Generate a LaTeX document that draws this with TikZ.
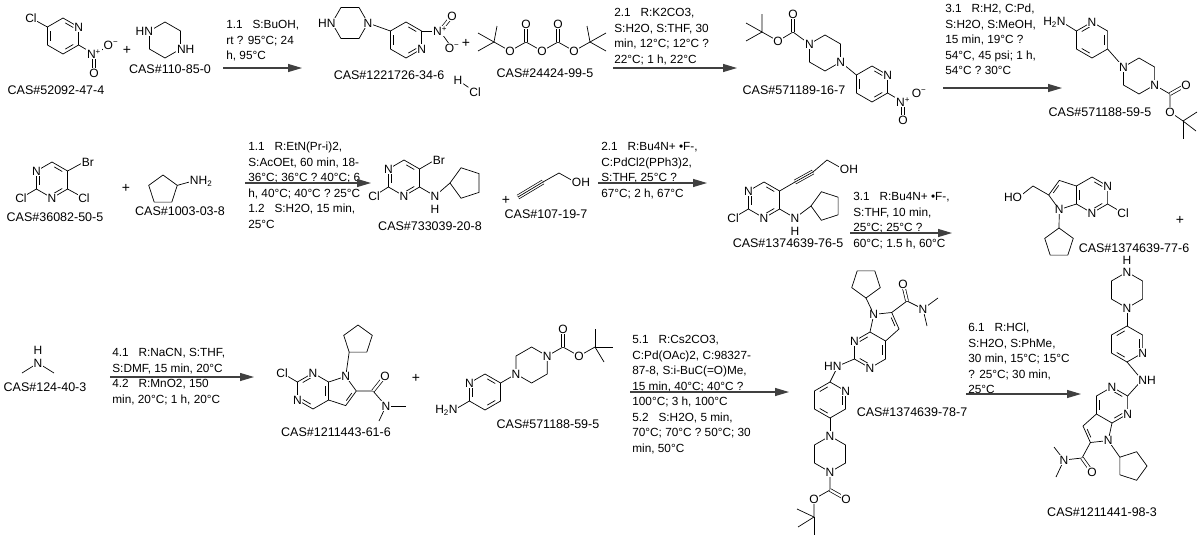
\documentclass[tikz,border=0pt]{standalone}
\usepackage{fontspec}
\setmainfont{Liberation Sans}
\usetikzlibrary{calc,arrows.meta}
\newcommand\hexP[3]{\coordinate (#1c) at (#2,#3); \coordinate (#1t) at (#2,#3-18); \coordinate (#1ur) at (#2+15.59,#3-9); \coordinate (#1lr) at (#2+15.59,#3+9); \coordinate (#1b) at (#2,#3+18); \coordinate (#1ll) at (#2-15.59,#3+9); \coordinate (#1ul) at (#2-15.59,#3-9); \draw (#1t)--(#1ur)--(#1lr)--(#1b)--(#1ll)--(#1ul)--cycle;}
\newcommand\hexF[3]{\coordinate (#1c) at (#2,#3); \coordinate (#1r) at (#2+18,#3); \coordinate (#1dr) at (#2+9,#3+15.59); \coordinate (#1dl) at (#2-9,#3+15.59); \coordinate (#1l) at (#2-18,#3); \coordinate (#1ul) at (#2-9,#3-15.59); \coordinate (#1ur) at (#2+9,#3-15.59); \draw (#1r)--(#1dr)--(#1dl)--(#1l)--(#1ul)--(#1ur)--cycle;}
\newcommand\pent[5]{\foreach \k in {1,...,5}{\coordinate (#1\k) at ({#2+#4*cos(#5+72*(\k-1))},{#3+#4*sin(#5+72*(\k-1))});} \draw (#11)--(#12)--(#13)--(#14)--(#15)--cycle;}
\newcommand\db[3]{\draw ($(#1)!.18!(#2)!.2!(#3)$) -- ($(#2)!.18!(#1)!.2!(#3)$);}
\newcommand\dbl[2]{\draw[double distance=2.2pt] (#1)--(#2);}
\newcommand\tbl[2]{\draw[double distance=3.4pt] (#1)--(#2); \draw (#1)--(#2);}
\begin{document}
\begin{tikzpicture}[x=1pt,y=-1pt,line width=0.7pt,
 atm/.style={fill=white,inner sep=0.6pt,font=\fontsize{12}{12}\selectfont},
 cas/.style={font=\fontsize{12.5}{13}\selectfont,inner sep=0},
 cond/.style={font=\fontsize{11.8}{15.5}\selectfont,align=left,anchor=north west,inner sep=0},
 rxn/.style={line width=1.1pt,draw=black!75,-{Triangle[length=14pt,width=8pt]}},
 plus/.style={font=\fontsize{14}{14}\selectfont}]
\useasboundingbox[fill=white] (0,0) rectangle (1200,539);
% ---------- Row 1 ----------
\hexP{A}{63}{36}
\db{At}{Aur}{Ac} \db{Alr}{Ab}{Ac} \db{All}{Aul}{Ac}
\coordinate (ACl) at (31,18); \draw (Aul)--(ACl);
\coordinate (AN) at (94,54); \draw (Alr)--(AN);
\coordinate (AO1) at (111,45); \draw (AN)--(AO1);
\coordinate (AO2) at (94,73); \dbl{AN}{AO2}
\node[atm] at (ACl) {Cl}; \node[atm] at (Aur) {N}; \node[atm] at (AN) {N\textsuperscript{+}};
\node[atm] at (AO1) {O\textsuperscript{−}}; \node[atm] at (AO2) {O};
\node[cas] (l1) at (56,90) {CAS\#52092-47-4};
\node[plus] (p1) at (127,50) {+};
\hexP{B}{165}{40}
\node[atm,anchor=east] at ($(Bul)+(4.5,0)$) {HN}; \node[atm,anchor=west] at ($(Blr)+(-4.5,0)$) {NH};
\node[cas] (l2) at (170,69) {CAS\#110-85-0};
\node[cond] (c1) at (226,20) {1.1\ \ \ S:BuOH,\\rt ? 95°C; 24\\h, 95°C};
\coordinate (a1s) at (223,68); \coordinate (a1e) at (302,68); \draw[rxn] (a1s)--(a1e);
\hexF{C}{350}{23}
\hexP{D}{406}{40}
\draw (Cr)--(Dul);
\db{Dt}{Dur}{Dc} \db{Dlr}{Db}{Dc} \db{Dll}{Dul}{Dc}
\coordinate (DN) at (440,31); \draw (Dur)--(DN);
\coordinate (DO1) at (452,16); \dbl{DN}{DO1}
\coordinate (DO2) at (452,48); \draw (DN)--(DO2);
\node[atm] at (Cr) {N}; \node[atm,anchor=east] at ($(Cl)+(4.5,0)$) {HN}; \node[atm] at (Dlr) {N};
\node[atm] at (DN) {N\textsuperscript{+}}; \node[atm] at (DO1) {O}; \node[atm] at (DO2) {O\textsuperscript{−}};
\node[cas] (l3) at (389,75) {CAS\#1221726-34-6};
\node[atm] (hh) at (458,80) {H}; \node[atm] (hcl) at (475,92) {Cl}; \draw (hh)--(hcl);
\node[plus] (p2) at (466,43) {+};
% Boc2O
\coordinate (q1) at (494,42); \coordinate (o1) at (510,51); \coordinate (k1) at (526,42); \coordinate (k1o) at (526,24);
\coordinate (o2) at (542,51); \coordinate (k2) at (558,42); \coordinate (k2o) at (558,24); \coordinate (o3) at (574,51); \coordinate (q2) at (590,42);
\draw (478,33)--(q1)--(478,51); \draw (q1)--(497,26);
\draw (q1)--(o1)--(k1)--(o2)--(k2)--(o3)--(q2);
\draw (606,33)--(q2)--(606,51); \draw (q2)--(587,26);
\dbl{k1}{k1o} \dbl{k2}{k2o}
\node[atm] at (o1) {O}; \node[atm] at (o2) {O}; \node[atm] at (o3) {O}; \node[atm] at (k1o) {O}; \node[atm] at (k2o) {O};
\node[cas] (l4) at (545,73) {CAS\#24424-99-5};
\node[cond] (c2) at (614,8) {2.1\ \ \ R:K2CO3,\\S:H2O, S:THF, 30\\min, 12°C; 12°C ?\\22°C; 1 h, 22°C};
\coordinate (a2s) at (613,68); \coordinate (a2e) at (737,68); \draw[rxn] (a2s)--(a2e);
% CAS 571189-16-7
\coordinate (eq) at (762,32); \coordinate (eo) at (778,41); \coordinate (ec) at (793,32); \coordinate (eco) at (793,14);
\draw (762,14)--(eq)--(746,23); \draw (eq)--(746,41);
\hexP{F}{825}{53}
\draw (eq)--(eo)--(ec)--(Ful); \dbl{ec}{eco}
\hexP{G}{872}{84}
\draw (Flr)--(Gul);
\db{Gt}{Gur}{Gc} \db{Glr}{Gb}{Gc} \db{Gll}{Gul}{Gc}
\coordinate (GN) at (903,102); \draw (Glr)--(GN);
\coordinate (GO1) at (919,93); \draw (GN)--(GO1);
\coordinate (GO2) at (903,120); \dbl{GN}{GO2}
\node[atm] at (eo) {O}; \node[atm] at (eco) {O}; \node[atm] at (Ful) {N}; \node[atm] at (Flr) {N}; \node[atm] at (Gur) {N};
\node[atm] at (GN) {N\textsuperscript{+}}; \node[atm] at (GO1) {O\textsuperscript{−}}; \node[atm] at (GO2) {O};
\node[cas] (l5) at (794,90) {CAS\#571189-16-7};
\node[cond] (c3) at (945,4) {3.1\ \ \ R:H2, C:Pd,\\S:H2O, S:MeOH,\\15 min, 19°C ?\\54°C, 45 psi; 1 h,\\54°C ? 30°C};
\coordinate (a3s) at (943,88); \coordinate (a3e) at (1062,88); \draw[rxn] (a3s)--(a3e);
% CAS 571188-59-5 (top right)
\hexP{H}{1092}{40}
\db{Hur}{Hlr}{Hc} \db{Hb}{Hll}{Hc} \db{Hul}{Ht}{Hc}
\coordinate (HN2) at (1062,22); \draw (Hul)--(HN2);
\hexP{I}{1139}{76}
\draw (Hlr)--(Iul);
\coordinate (ic) at (1170,94); \coordinate (ico) at (1186,85); \coordinate (ioe) at (1170,112); \coordinate (iq) at (1183,121);
\draw (Ilr)--(ic)--(ioe)--(iq); \dbl{ic}{ico}
\draw (iq)--(1197,112); \draw (iq)--(1196,131); \draw (iq)--(1183,139);
\node[atm] at (Ht) {N}; \node[atm,anchor=east] at ($(HN2)+(4.5,0)$) {H\textsubscript{2}N};
\node[atm] at (Iul) {N}; \node[atm] at (Ilr) {N}; \node[atm] at (ico) {O}; \node[atm] at (ioe) {O};
\node[cas] (l6) at (1100,112) {CAS\#571188-59-5};
% ---------- Row 2 ----------
\hexP{J}{52}{180}
\db{Jt}{Jur}{Jc} \db{Jlr}{Jb}{Jc} \db{Jll}{Jul}{Jc}
\coordinate (JCl1) at (21,198); \coordinate (JCl2) at (84,198); \coordinate (JBr) at (84,162);
\draw (Jll)--(JCl1); \draw (Jlr)--(JCl2); \draw (Jur)--(JBr);
\node[atm] at (Jul) {N}; \node[atm] at (Jb) {N}; \node[atm] at (JCl1) {Cl}; \node[atm] at (JCl2) {Cl}; \node[atm,anchor=west] at ($(JBr)+(-3,0)$) {Br};
\node[cas] (l7) at (55,217) {CAS\#36082-50-5};
\node[plus] (p3) at (126,188) {+};
\pent{K}{163}{190}{15}{-90}
\coordinate (KN) at (193,181); \draw (K2)--(KN);
\node[atm,anchor=west] at ($(KN)+(-4,0)$) {NH\textsubscript{2}};
\node[cas] (l8) at (180,211) {CAS\#1003-03-8};
\node[cond] (c4) at (248,142) {1.1\ \ \ R:EtN(Pr-i)2,\\S:AcOEt, 60 min, 18-\\36°C; 36°C ? 40°C; 6\\h, 40°C; 40°C ? 25°C\\1.2\ \ \ S:H2O, 15 min,\\25°C};
\coordinate (a4s) at (245,183); \coordinate (a4e) at (371,183); \draw[rxn] (a4s)--(a4e);
\hexP{L}{404}{178}
\db{Lt}{Lur}{Lc} \db{Llr}{Lb}{Lc} \db{Lll}{Lul}{Lc}
\coordinate (LCl) at (374,196); \coordinate (LBr) at (435,160); \coordinate (LN) at (435,196);
\draw (Lll)--(LCl); \draw (Lur)--(LBr); \draw (Llr)--(LN);
\pent{M}{466}{183}{16}{180}
\draw (LN)--(M1);
\node[atm] at (Lul) {N}; \node[atm] at (Lb) {N}; \node[atm] at (LCl) {Cl}; \node[atm,anchor=west] at ($(LBr)+(-3,0)$) {Br};
\node[atm] at (LN) {N}; \node[atm] at (435,209) {H};
\node[cas] (l9) at (430,226) {CAS\#733039-20-8};
\node[plus] (p4) at (506,200) {+};
\coordinate (y1) at (518,197); \coordinate (y2) at (543,182); \coordinate (y3) at (559,173); \coordinate (yo) at (575,182);
\tbl{y1}{y2} \draw (y2)--(y3)--(yo);
\node[atm,anchor=west] at ($(yo)+(-4,0)$) {OH};
\node[cas] (l10) at (546,214) {CAS\#107-19-7};
\node[cond] (c5) at (601,142) {2.1\ \ \ R:Bu4N+ •F-,\\C:PdCl2(PPh3)2,\\S:THF, 25°C ?\\67°C; 2 h, 67°C};
\coordinate (a5s) at (598,183); \coordinate (a5e) at (707,183); \draw[rxn] (a5s)--(a5e);
\hexP{N}{764}{200}
\db{Nt}{Nur}{Nc} \db{Nlr}{Nb}{Nc} \db{Nll}{Nul}{Nc}
\coordinate (NCl) at (733,218); \coordinate (NNH) at (795,218);
\draw (Nll)--(NCl); \draw (Nlr)--(NNH);
\pent{P}{826}{206}{15}{180}
\draw (NNH)--(P1);
\coordinate (z1) at (795,182); \coordinate (z2) at (813,172); \coordinate (z3) at (827,160); \coordinate (zo) at (843,169);
\draw (Nur)--(z1); \tbl{z1}{z2} \draw (z2)--(z3)--(zo);
\node[atm] at (Nul) {N}; \node[atm] at (Nb) {N}; \node[atm] at (NCl) {Cl}; \node[atm] at (NNH) {N}; \node[atm] at (795,231) {H};
\node[atm,anchor=west] at ($(zo)+(-4,0)$) {OH};
\node[cas] (l11) at (788,243) {CAS\#1374639-76-5};
\node[cond] (c6) at (853,192) {3.1\ \ \ R:Bu4N+ •F-,\\S:THF, 10 min,\\25°C; 25°C ?\\60°C; 1.5 h, 60°C};
\coordinate (a6s) at (850,233); \coordinate (a6e) at (952,233); \draw[rxn] (a6s)--(a6e);
\hexP{Q}{1092}{195}
\coordinate (Q5) at (1059.3,180.4); \coordinate (Q6) at (1048.7,195); \coordinate (Q7) at (1059.3,209.6); \coordinate (Qpc) at (1064,195);
\draw (Qul)--(Q5)--(Q6)--(Q7)--(Qll);
\db{Qt}{Qur}{Qc} \db{Qlr}{Qb}{Qc} \db{Qll}{Qul}{Qc} \db{Q5}{Q6}{Qpc}
\coordinate (QCl) at (1123,213); \draw (Qlr)--(QCl);
\coordinate (Qch) at (1033,186); \coordinate (QO) at (1019,197); \draw (Q6)--(Qch)--(QO);
\pent{R}{1059}{243}{15}{-90}
\draw (Q7)--(R1);
\node[atm] at (Qur) {N}; \node[atm] at (Qb) {N}; \node[atm] at (Q7) {N}; \node[atm] at (QCl) {Cl};
\node[atm,anchor=east] at ($(QO)+(4,0)$) {HO};
\node[cas] (l12) at (1134,248) {CAS\#1374639-77-6};
\node[plus] (p5) at (1180,220) {+};
% ---------- Row 3 ----------
\coordinate (dN) at (38,363);
\draw (dN)--(22,373); \draw (dN)--(54,373);
\node[atm] at (dN) {N}; \node[atm] at (38,350) {H};
\node[cas] (l13) at (45,387) {CAS\#124-40-3};
\node[cond] (c7) at (112,348) {4.1\ \ \ R:NaCN, S:THF,\\S:DMF, 15 min, 20°C\\4.2\ \ \ R:MnO2, 150\\min, 20°C; 1 h, 20°C};
\coordinate (a7s) at (110,377); \coordinate (a7e) at (254,377); \draw[rxn] (a7s)--(a7e);
\hexP{S}{313}{391}
\coordinate (S7) at (345.7,376.4); \coordinate (S6) at (356.3,391); \coordinate (S5) at (345.7,405.6); \coordinate (Spc) at (341,391);
\draw (Sur)--(S7)--(S6)--(S5)--(Slr);
\db{Sul}{St}{Sc} \db{Sll}{Sb}{Sc} \db{Sur}{Slr}{Sc} \db{S6}{S5}{Spc}
\coordinate (SCl) at (282,373); \draw (Sul)--(SCl);
\pent{T}{358}{340}{15}{126}
\draw (S7)--(T1);
\coordinate (sc) at (373,391); \coordinate (so) at (385,376); \coordinate (sn) at (386,406);
\draw (S6)--(sc)--(sn); \dbl{sc}{so} \draw (sn)--(406,406); \draw (sn)--(379,421);
\node[atm] at (St) {N}; \node[atm] at (Sll) {N}; \node[atm] at (S7) {N}; \node[atm] at (SCl) {Cl};
\node[atm] at (so) {O}; \node[atm] at (sn) {N};
\node[cas] (l14) at (336,432) {CAS\#1211443-61-6};
\node[plus] (p6) at (416,378) {+};
\hexP{U}{485}{392}
\db{Ut}{Uur}{Uc} \db{Ulr}{Ub}{Uc} \db{Ull}{Uul}{Uc}
\coordinate (UN2) at (454,410); \draw (Ull)--(UN2);
\hexP{W}{531.6}{365}
\draw (Uur)--(Wll);
\coordinate (wc) at (563,347); \coordinate (wco) at (563,329); \coordinate (wo) at (579,356); \coordinate (wq) at (595,347);
\draw (Wur)--(wc)--(wo)--(wq); \dbl{wc}{wco}
\draw (wq)--(595,329); \draw (wq)--(613,347); \draw (wq)--(604,362);
\node[atm] at (Uul) {N}; \node[atm,anchor=east] at ($(UN2)+(4.5,0)$) {H\textsubscript{2}N};
\node[atm] at (Wll) {N}; \node[atm] at (Wur) {N}; \node[atm] at (wco) {O}; \node[atm] at (wo) {O};
\node[cas] (l15) at (548,424) {CAS\#571188-59-5};
\node[cond] (c8) at (632,335) {5.1\ \ \ R:Cs2CO3,\\C:Pd(OAc)2, C:98327-\\87-8, S:i-BuC(=O)Me,\\15 min, 40°C; 40°C ?\\100°C; 3 h, 100°C\\5.2\ \ \ S:H2O, 5 min,\\70°C; 70°C ? 50°C; 30\\min, 50°C};
\coordinate (a8s) at (630,392); \coordinate (a8e) at (789,392); \draw[rxn] (a8s)--(a8e);
\hexP{V}{870}{350}
\coordinate (V7) at (873.8,314.4); \coordinate (V6) at (891.7,312.5); \coordinate (V5) at (899,329); \coordinate (Vpc) at (884,326);
\draw (Vt)--(V7)--(V6)--(V5)--(Vur);
\db{Vul}{Vt}{Vc} \db{Vll}{Vb}{Vc} \db{Vur}{Vlr}{Vc} \db{V6}{V5}{Vpc}
\pent{X}{866}{283}{15}{90}
\draw (V7)--(X1);
\coordinate (vc) at (907,301); \coordinate (vo) at (903,284); \coordinate (vn) at (923,309);
\draw (V6)--(vc)--(vn); \dbl{vc}{vo} \draw (vn)--(938,298); \draw (vn)--(927,326);
\coordinate (vnh) at (838,366); \draw (Vll)--(vnh);
\hexP{Y}{830}{400}
\draw (vnh)--(Yt);
\db{Yur}{Ylr}{Yc} \db{Yb}{Yll}{Yc} \db{Yul}{Yt}{Yc}
\hexP{Z}{830}{454}
\draw (Yb)--(Zt);
\coordinate (zc) at (830,490); \coordinate (zco) at (846,499); \coordinate (zoe) at (814,499); \coordinate (zq) at (814,517);
\draw (Zb)--(zc)--(zoe)--(zq); \dbl{zc}{zco}
\draw (zq)--(797,509); \draw (zq)--(798,527); \draw (zq)--(814,535);
\node[atm] at (Vul) {N}; \node[atm] at (Vb) {N}; \node[atm] at (V7) {N}; \node[atm] at (vo) {O}; \node[atm] at (vn) {N};
\node[atm,anchor=east] at ($(vnh)+(4.5,0)$) {HN}; \node[atm] at (Yur) {N};
\node[atm] at (Zt) {N}; \node[atm] at (Zb) {N}; \node[atm] at (zco) {O}; \node[atm] at (zoe) {O};
\node[cas] (l16) at (912,412) {CAS\#1374639-78-7};
\node[cond] (c9) at (968,323) {6.1\ \ \ R:HCl,\\S:H2O, S:PhMe,\\30 min, 15°C; 15°C\\? 25°C; 30 min,\\25°C};
\coordinate (a9s) at (966,394); \coordinate (a9e) at (1081,394); \draw[rxn] (a9s)--(a9e);
\hexP{AZ}{1127}{290}
\hexP{AA}{1127}{344}
\draw (AZb)--(AAt);
\db{AAur}{AAlr}{AAc} \db{AAb}{AAll}{AAc} \db{AAul}{AAt}{AAc}
\coordinate (anh) at (1142,380); \draw (AAb)--(anh);
\hexP{AB}{1112}{405}
\draw (anh)--(ABur);
\coordinate (A7) at (1108.2,440.6); \coordinate (A6) at (1090.4,442.5); \coordinate (A5) at (1083,426); \coordinate (Apc) at (1098,429);
\draw (ABb)--(A7)--(A6)--(A5)--(ABll);
\db{ABt}{ABur}{ABc} \db{ABlr}{ABb}{ABc} \db{ABll}{ABul}{ABc} \db{A6}{A5}{Apc}
\pent{AC}{1132}{466}{15}{216}
\draw (A7)--(AC1);
\coordinate (ac) at (1082,458); \coordinate (ao) at (1092,472); \coordinate (an) at (1064,460);
\draw (A6)--(ac)--(an); \dbl{ac}{ao} \draw (an)--(1054,447); \draw (an)--(1056,477);
\node[atm] at (AZt) {N}; \node[atm] at (1127,260) {H}; \node[atm] at (AZb) {N}; \node[atm] at (AAlr) {N};
\node[atm,anchor=west] at ($(anh)+(-4.5,0)$) {NH};
\node[atm] at (ABt) {N}; \node[atm] at (ABlr) {N}; \node[atm] at (A7) {N}; \node[atm] at (ao) {O}; \node[atm] at (an) {N};
\node[cas] (l17) at (1102,512) {CAS\#1211441-98-3};
\end{tikzpicture}
\end{document}
